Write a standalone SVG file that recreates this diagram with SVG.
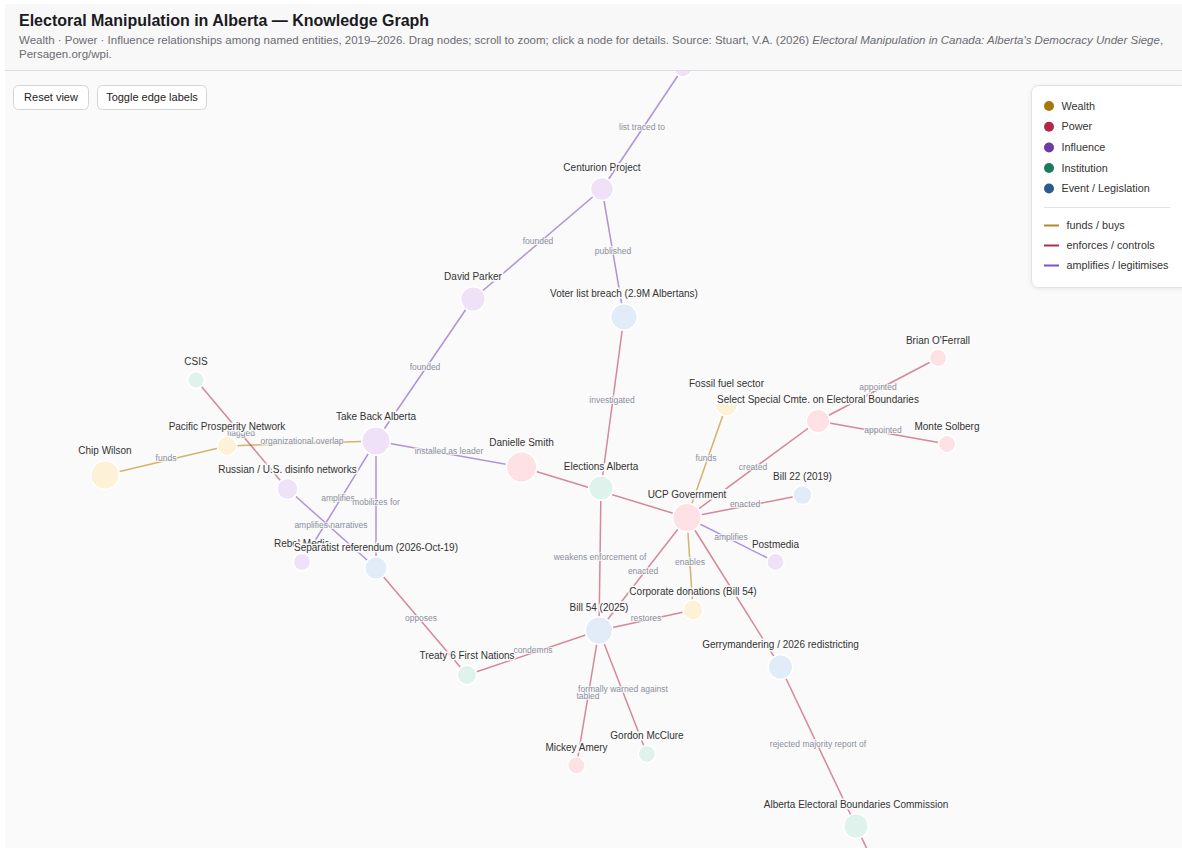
<svg xmlns="http://www.w3.org/2000/svg" width="1182" height="848" viewBox="0 0 1182 848">
<style>
text{font-family:"Liberation Sans",Arial,sans-serif;}
.e{fill:none;stroke-width:1.5;}
.fu{stroke:#b8860b;stroke-opacity:.6;}
.en{stroke:#b5294a;stroke-opacity:.55;}
.am{stroke:#7b4fbf;stroke-opacity:.6;}
.el{font-size:8.5px;fill:#8b8f9c;text-anchor:middle;stroke:#fafafa;stroke-width:2;paint-order:stroke;stroke-opacity:.8;}
.n{stroke:#fff;stroke-width:1.5;}
.w{fill:#fdf1d8;}
.p{fill:#fde1e5;}
.i{fill:#efe2f8;}
.s{fill:#dff3ec;}
.v{fill:#e2ecf8;}
.nl{font-size:10px;fill:#333;text-anchor:middle;stroke:#fafafa;stroke-width:3;paint-order:stroke;}
.lg{font-size:10.8px;fill:#333;}
.btn{fill:#fff;stroke:#d4d4d8;stroke-width:1;}
.bt{font-size:11px;fill:#222;text-anchor:middle;}
</style>
<defs>
  <filter id="shadow" x="-10%" y="-10%" width="130%" height="130%">
    <feDropShadow dx="0" dy="1" stdDeviation="2" flood-color="#000" flood-opacity="0.08"/>
  </filter>
</defs>
<rect x="0" y="0" width="1182" height="848" fill="#ffffff"/>
<rect x="5" y="4" width="1177" height="844" fill="#fafafa"/>

<g id="connectors">
  <line class="e am" x1="602" y1="189" x2="683" y2="68"/>
  <line class="e am" x1="602" y1="189" x2="473" y2="299"/>
  <line class="e am" x1="602" y1="189" x2="624" y2="317"/>
  <line class="e am" x1="473" y1="299" x2="376" y2="441"/>
  <line class="e en" x1="624" y1="317" x2="601" y2="488"/>
  <line class="e am" x1="376" y1="441" x2="521.5" y2="467"/>
  <line class="e fu" x1="105" y1="475" x2="227" y2="446"/>
  <line class="e fu" x1="227" y1="446" x2="376" y2="441"/>
  <line class="e en" x1="196" y1="380" x2="287.5" y2="489"/>
  <line class="e am" x1="376" y1="441" x2="302" y2="562"/>
  <line class="e am" x1="376" y1="441" x2="376" y2="568"/>
  <line class="e am" x1="287.5" y1="489" x2="376" y2="568"/>
  <line class="e en" x1="376" y1="568" x2="467" y2="675"/>
  <line class="e en" x1="521.5" y1="467" x2="687" y2="517.5"/>
  <line class="e en" x1="601" y1="488" x2="599" y2="630.5"/>
  <line class="e en" x1="687" y1="517.5" x2="599" y2="630.5"/>
  <line class="e fu" x1="687" y1="517.5" x2="693" y2="610"/>
  <line class="e fu" x1="726.5" y1="405" x2="687" y2="517.5"/>
  <line class="e en" x1="599" y1="630.5" x2="693" y2="610"/>
  <line class="e en" x1="467" y1="675" x2="599" y2="630.5"/>
  <line class="e en" x1="599" y1="630.5" x2="576.5" y2="765.5"/>
  <line class="e en" x1="599" y1="630.5" x2="647" y2="754"/>
  <line class="e en" x1="687" y1="517.5" x2="818" y2="421"/>
  <line class="e en" x1="818" y1="421" x2="938" y2="358"/>
  <line class="e en" x1="818" y1="421" x2="947" y2="444"/>
  <line class="e en" x1="687" y1="517.5" x2="802.5" y2="495"/>
  <line class="e am" x1="687" y1="517.5" x2="775.5" y2="562"/>
  <line class="e en" x1="687" y1="517.5" x2="780.5" y2="667"/>
  <line class="e en" x1="780.5" y1="667" x2="856" y2="826"/>
  <line class="e en" x1="856" y1="826" x2="878" y2="872"/>

  <text class="el" x="642" y="130">list traced to</text>
  <text class="el" x="538" y="244">founded</text>
  <text class="el" x="613" y="254">published</text>
  <text class="el" x="425" y="370">founded</text>
  <text class="el" x="612" y="403">investigated</text>
  <text class="el" x="449" y="454">installed as leader</text>
  <text class="el" x="166" y="461">funds</text>
  <text class="el" x="302" y="444">organizational overlap</text>
  <text class="el" x="241" y="436">flagged</text>
  <text class="el" x="338" y="501">amplifies</text>
  <text class="el" x="376" y="505">mobilizes for</text>
  <text class="el" x="331" y="528">amplifies narratives</text>
  <text class="el" x="421" y="621">opposes</text>
  <text class="el" x="600" y="560">weakens enforcement of</text>
  <text class="el" x="643" y="574">enacted</text>
  <text class="el" x="690" y="565">enables</text>
  <text class="el" x="706" y="461">funds</text>
  <text class="el" x="646" y="621">restores</text>
  <text class="el" x="533" y="653">condemns</text>
  <text class="el" x="588" y="699">tabled</text>
  <text class="el" x="623" y="692">formally warned against</text>
  <text class="el" x="753" y="470">created</text>
  <text class="el" x="878" y="390">appointed</text>
  <text class="el" x="883" y="433">appointed</text>
  <text class="el" x="745" y="507">enacted</text>
  <text class="el" x="731" y="540">amplifies</text>
  <text class="el" x="818" y="747">rejected majority report of</text>
</g>

<g id="node-top"><circle class="n i" cx="683" cy="68" r="9"/></g>
<g id="node-centurion"><circle class="n i" cx="602" cy="189" r="11.5"/><text class="nl" x="602" y="171">Centurion Project</text></g>
<g id="node-parker"><circle class="n i" cx="473" cy="299" r="12.3"/><text class="nl" x="473" y="280">David Parker</text></g>
<g id="node-voter"><circle class="n v" cx="624" cy="317" r="13.3"/><text class="nl" x="624" y="297">Voter list breach (2.9M Albertans)</text></g>
<g id="node-csis"><circle class="n s" cx="196" cy="380" r="8.3"/><text class="nl" x="196" y="365">CSIS</text></g>
<g id="node-ppn"><circle class="n w" cx="227" cy="446" r="9.7"/><text class="nl" x="227" y="429.5">Pacific Prosperity Network</text></g>
<g id="node-chip"><circle class="n w" cx="105" cy="475" r="14.3"/><text class="nl" x="105" y="454">Chip Wilson</text></g>
<g id="node-tba"><circle class="n i" cx="376" cy="441" r="14.3"/><text class="nl" x="376" y="420">Take Back Alberta</text></g>
<g id="node-russian"><circle class="n i" cx="287.5" cy="489" r="10.5"/><text class="nl" x="287.5" y="473">Russian / U.S. disinfo networks</text></g>
<g id="node-rebel"><circle class="n i" cx="302" cy="562" r="8.7"/><text class="nl" x="302" y="546.5">Rebel Media</text></g>
<g id="node-separatist"><circle class="n v" cx="376" cy="568" r="11.3"/><text class="nl" x="376" y="550.5">Separatist referendum (2026-Oct-19)</text></g>
<g id="node-danielle"><circle class="n p" cx="521.5" cy="467" r="15.3"/><text class="nl" x="521.5" y="445.5">Danielle Smith</text></g>
<g id="node-elections"><circle class="n s" cx="601" cy="488" r="12.3"/><text class="nl" x="601" y="470">Elections Alberta</text></g>
<g id="node-ucp"><circle class="n p" cx="687" cy="517.5" r="14.3"/><text class="nl" x="687" y="497.5">UCP Government</text></g>
<g id="node-fossil"><circle class="n w" cx="726.5" cy="405" r="11"/><text class="nl" x="726.5" y="387">Fossil fuel sector</text></g>
<g id="node-select"><circle class="n p" cx="818" cy="421" r="11.7"/><text class="nl" x="818" y="403">Select Special Cmte. on Electoral Boundaries</text></g>
<g id="node-brian"><circle class="n p" cx="938" cy="358" r="8.7"/><text class="nl" x="938" y="343.5">Brian O'Ferrall</text></g>
<g id="node-monte"><circle class="n p" cx="947" cy="444" r="8.7"/><text class="nl" x="947" y="429.5">Monte Solberg</text></g>
<g id="node-bill22"><circle class="n v" cx="802.5" cy="495" r="9.5"/><text class="nl" x="802.5" y="479.5">Bill 22 (2019)</text></g>
<g id="node-postmedia"><circle class="n i" cx="775.5" cy="562" r="8.7"/><text class="nl" x="775.5" y="547.5">Postmedia</text></g>
<g id="node-corporate"><circle class="n w" cx="693" cy="610" r="10"/><text class="nl" x="693" y="595">Corporate donations (Bill 54)</text></g>
<g id="node-bill54"><circle class="n v" cx="599" cy="630.5" r="13.7"/><text class="nl" x="599" y="611">Bill 54 (2025)</text></g>
<g id="node-treaty6"><circle class="n s" cx="467" cy="675" r="9.7"/><text class="nl" x="467" y="659">Treaty 6 First Nations</text></g>
<g id="node-gerry"><circle class="n v" cx="780.5" cy="667" r="12.3"/><text class="nl" x="780.5" y="648">Gerrymandering / 2026 redistricting</text></g>
<g id="node-mickey"><circle class="n p" cx="576.5" cy="765.5" r="8.7"/><text class="nl" x="576.5" y="751">Mickey Amery</text></g>
<g id="node-gordon"><circle class="n s" cx="647" cy="754" r="8.7"/><text class="nl" x="647" y="739">Gordon McClure</text></g>
<g id="node-aebc"><circle class="n s" cx="856" cy="826" r="12.3"/><text class="nl" x="856" y="807.5">Alberta Electoral Boundaries Commission</text></g>

<g id="header">
  <rect x="5" y="4" width="1177" height="66" fill="#f8f8f8"/>
  <line x1="5" y1="70.5" x2="1182" y2="70.5" stroke="#dcdce4" stroke-width="1"/>
  <text x="19" y="26" font-size="16" font-weight="bold" fill="#1a1a1f">Electoral Manipulation in Alberta — Knowledge Graph</text>
  <text x="19" y="44" font-size="11.5" fill="#6b6b72">Wealth · Power · Influence relationships among named entities, 2019–2026. Drag nodes; scroll to zoom; click a node for details. Source: Stuart, V.A. (2026) <tspan font-style="italic">Electoral Manipulation in Canada: Alberta's Democracy Under Siege</tspan>,</text>
  <text x="19" y="58" font-size="11.5" fill="#6b6b72">Persagen.org/wpi.</text>
</g>

<g id="controls">
  <rect class="btn" x="13.5" y="85.5" width="75" height="24" rx="5"/>
  <text class="bt" x="51" y="101">Reset view</text>
  <rect class="btn" x="97.5" y="85.5" width="109" height="24" rx="5"/>
  <text class="bt" x="152" y="101">Toggle edge labels</text>
</g>

<g id="legend">
  <rect x="1031.5" y="85.5" width="158" height="202" rx="7" fill="#ffffff" stroke="#e2e2e6" filter="url(#shadow)"/>
  <circle cx="1049" cy="106" r="5" fill="#a8760f"/>
  <text class="lg" x="1061.5" y="109.5">Wealth</text>
  <circle cx="1049" cy="126.7" r="5" fill="#b02a48"/>
  <text class="lg" x="1061.5" y="130">Power</text>
  <circle cx="1049" cy="147.5" r="5" fill="#6e3aa6"/>
  <text class="lg" x="1061.5" y="151">Influence</text>
  <circle cx="1049" cy="168" r="5" fill="#1d7a5c"/>
  <text class="lg" x="1061.5" y="171.5">Institution</text>
  <circle cx="1049" cy="188.5" r="5" fill="#2c5c8e"/>
  <text class="lg" x="1061.5" y="192">Event / Legislation</text>
  <line x1="1044" y1="207.5" x2="1170" y2="207.5" stroke="#e2e2e6"/>
  <line x1="1044" y1="225.5" x2="1059" y2="225.5" stroke="#b08a2a" stroke-width="2"/>
  <text class="lg" x="1066.5" y="229">funds / buys</text>
  <line x1="1044" y1="245.5" x2="1059" y2="245.5" stroke="#a83250" stroke-width="2"/>
  <text class="lg" x="1066.5" y="249">enforces / controls</text>
  <line x1="1044" y1="265.5" x2="1059" y2="265.5" stroke="#7e55c0" stroke-width="2"/>
  <text class="lg" x="1066.5" y="269">amplifies / legitimises</text>
</g>
</svg>
